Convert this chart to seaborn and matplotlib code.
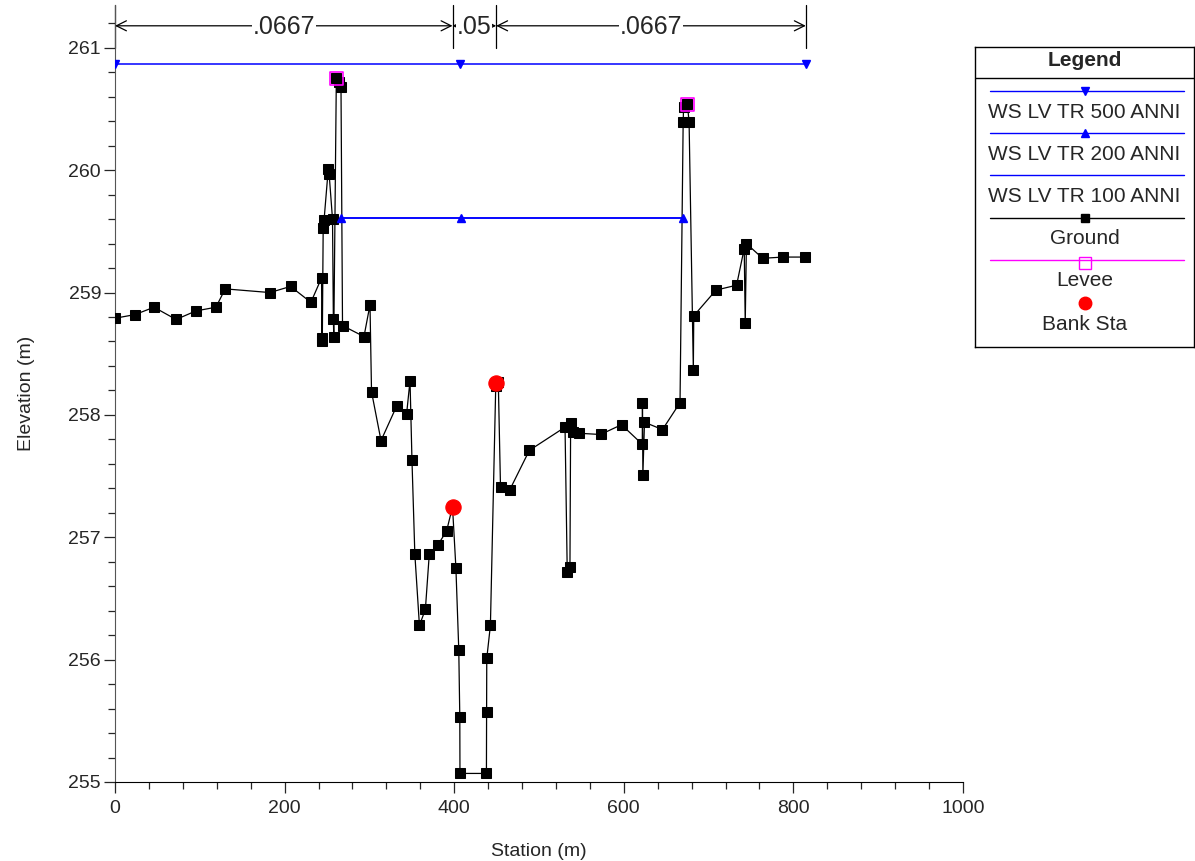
import matplotlib
matplotlib.use("Agg")
import matplotlib.pyplot as plt
from matplotlib.ticker import MultipleLocator
import numpy as np
import pandas as pd
import seaborn as sns

# ground profile (station m, elevation m)
ground_sta = [0, 23.6, 46, 72, 95.5, 119, 130, 182.7, 207, 231,
              243.6, 244, 244.5, 245.5, 246.5, 251.5, 252.5, 256.5, 257.5, 258,
              261, 264, 266.5, 268.3, 293.6, 300.7, 302.5, 313.7, 332, 343.9,
              347.9, 350.2, 353.6, 359, 366, 370.6, 380.9, 391, 398, 402,
              405.4, 406.6, 406.8, 438, 438.2, 438.4, 442.7, 449, 452, 454.6,
              465.7, 488.6, 530.7, 533.3, 536.5, 537.3, 540.4, 547.2, 572.6, 597.3,
              621.8, 622, 622.5, 624.4, 645.6, 666.3, 670, 670.5, 675, 677,
              682, 682.5, 708.7, 733, 742, 743.2, 744.6, 763.7, 788, 813.7]
ground_elev = [258.79, 258.82, 258.88, 258.78, 258.85, 258.88, 259.03, 259.00, 259.05, 258.92,
               259.12, 258.60, 258.63, 259.53, 259.59, 260.01, 259.97, 259.60, 258.78, 258.64,
               260.75, 260.72, 260.68, 258.73, 258.64, 258.90, 258.19, 257.79, 258.07, 258.01,
               258.28, 257.63, 256.86, 256.28, 256.41, 256.86, 256.94, 257.05, 257.25, 256.75,
               256.08, 255.53, 255.07, 255.07, 255.57, 256.01, 256.28, 258.24, 258.27, 257.41,
               257.39, 257.71, 257.90, 256.72, 256.76, 257.93, 257.86, 257.85, 257.84, 257.92,
               257.76, 258.10, 257.51, 257.94, 257.88, 258.10, 260.39, 260.52, 260.54, 260.39,
               258.37, 258.81, 259.02, 259.06, 259.36, 258.75, 259.40, 259.28, 259.29, 259.29]

# water surfaces
ws500_sta = [0, 406.6, 814.6]
ws500_elev = [260.87, 260.87, 260.87]
ws200_sta = [266.9, 407.6, 670.2]
ws200_elev = [259.61, 259.61, 259.61]
ws100_sta = [266.9, 407.6, 670.2]
ws100_elev = [259.61, 259.61, 259.61]

levee_sta = [261.3, 675]
levee_elev = [260.75, 260.54]
bank_sta = [398, 449.5]
bank_elev = [257.25, 258.26]

# manning's n zones
n_bounds = [0, 398, 449.5, 814.6]
n_labels = [".0667", ".05", ".0667"]

legend_labels = ["WS LV TR 500 ANNI", "WS LV TR 200 ANNI", "WS LV TR 100 ANNI",
                 "Ground", "Levee", "Bank Sta"]

sns.set_style("ticks")
plt.rcParams['font.family'] = ['Liberation Sans', 'DejaVu Sans']

fig = plt.figure(figsize=(11.95, 8.61), dpi=100)
ax = fig.add_axes([115/1195, 79/861, 848/1195, 777/861])

ground = pd.DataFrame({"sta": ground_sta, "elev": ground_elev})
sns.lineplot(data=ground, x="sta", y="elev", sort=False, estimator=None, ax=ax,
             color="black", lw=0.9, marker="s", markersize=6.5,
             markeredgecolor="black", markerfacecolor="black", zorder=3)

ax.plot(ws100_sta, ws100_elev, color="#0000ff", lw=1.1, zorder=2)
ax.plot(ws200_sta, ws200_elev, color="#0000ff", lw=1.1, marker="^", markersize=6, zorder=4)
ax.plot(ws500_sta, ws500_elev, color="#0000ff", lw=1.1, marker="v", markersize=6, zorder=4)
sns.scatterplot(x=levee_sta, y=levee_elev, ax=ax, marker="s", s=90,
                facecolor="none", edgecolor="#ff00ff", linewidth=1.2, zorder=5)
sns.scatterplot(x=bank_sta, y=bank_elev, ax=ax, marker="o", s=120,
                color="#ff0000", edgecolor="#ff0000", zorder=6)

# n value annotations
for b in n_bounds:
    ax.plot([b, b], [261.0, 261.35], color="black", lw=0.9, clip_on=False)
for i, lab in enumerate(n_labels):
    x0, x1 = n_bounds[i], n_bounds[i + 1]
    ax.annotate("", xy=(x0, 261.18), xytext=(x1, 261.18),
                arrowprops=dict(arrowstyle="<->", color="black", lw=0.9,
                                shrinkA=0, shrinkB=0, mutation_scale=18))
    ax.text((x0 + x1) / 2, 261.17, lab, ha="center", va="center", fontsize=18,
            bbox=dict(facecolor="white", edgecolor="none", pad=0.5))

ax.set_xlim(0, 1000)
ax.set_ylim(255, 261.35)
ax.xaxis.set_major_locator(MultipleLocator(200))
ax.xaxis.set_minor_locator(MultipleLocator(40))
ax.yaxis.set_major_locator(MultipleLocator(1))
ax.yaxis.set_minor_locator(MultipleLocator(0.2))
ax.tick_params(which="major", length=8, width=0.9, labelsize=14)
ax.tick_params(which="minor", length=5, width=0.9)
ax.tick_params(axis="y", which="major", pad=2)
ax.tick_params(axis="x", which="major", pad=5)
for s in ["top", "right"]:
    ax.spines[s].set_visible(False)
ax.spines["left"].set_color("#555555")
ax.spines["bottom"].set_color("black")
ax.set_xlabel("Station (m)", fontsize=14, labelpad=19)
ax.set_ylabel("Elevation (m)", fontsize=14, labelpad=24)

# legend box
lax = fig.add_axes([975/1195, (861-347)/861, 219/1195, 300/861])
lax.set_xlim(0, 1)
lax.set_ylim(300, 0)
lax.set_xticks([])
lax.set_yticks([])
for s in lax.spines.values():
    s.set_visible(True)
    s.set_color("black")
    s.set_linewidth(1)
lax.text(0.5, 14, "Legend", ha="center", va="center", fontsize=15, fontweight="bold")
lax.axhline(31, color="black", lw=1)
xs = [0.068, 0.955]
line_y = [44, 86, 128, 171, 213, 256]
lab_y = [65, 107, 149, 191, 234, 277]
lax.plot(xs, [line_y[0]] * 2, color="#0000ff", lw=1)
lax.plot(0.5, line_y[0], marker="v", color="#0000ff", markersize=6)
lax.plot(xs, [line_y[1]] * 2, color="#0000ff", lw=1)
lax.plot(0.5, line_y[1], marker="^", color="#0000ff", markersize=6)
lax.plot(xs, [line_y[2]] * 2, color="#0000ff", lw=1)
lax.plot(xs, [line_y[3]] * 2, color="black", lw=1)
lax.plot(0.5, line_y[3], marker="s", color="black", markersize=6)
lax.plot(xs, [line_y[4]] * 2, color="#ff00ff", lw=1)
lax.plot(0.5, line_y[4] + 3, marker="s", markerfacecolor="none",
         markeredgecolor="#ff00ff", markersize=9)
lax.plot(0.5, line_y[5], marker="o", color="#ff0000", markersize=9)
for y, lab in zip(lab_y, legend_labels):
    lax.text(0.5, y, lab, ha="center", va="center", fontsize=15)

fig.savefig("out.png", dpi=100)
